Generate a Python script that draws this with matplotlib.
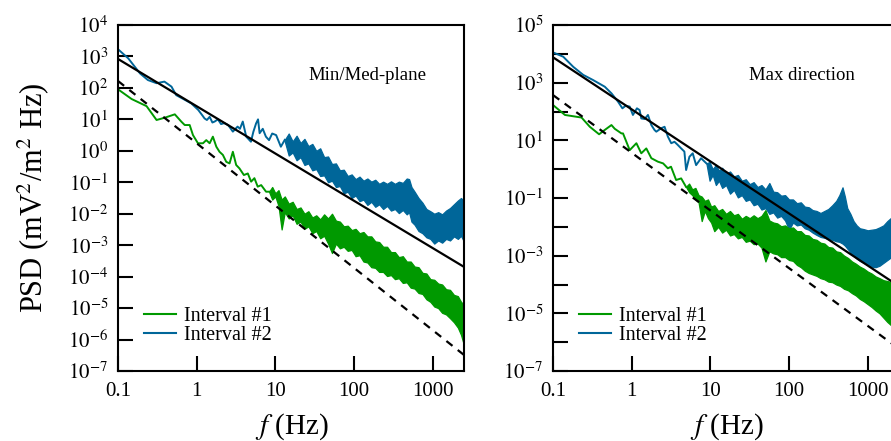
import numpy as np
import matplotlib
matplotlib.use("Agg")
import matplotlib.pyplot as plt
from matplotlib.ticker import FixedLocator, FixedFormatter, NullLocator

plt.rcParams['font.family'] = ['Liberation Serif', 'DejaVu Serif']
plt.rcParams['mathtext.fontset'] = 'stix'

# ---------------- data (log10 frequency [Hz], log10 PSD) ----------------
# Panel 1: Min/Med-plane
mm_i2_line_logf = [-1.0, -0.87, -0.72, -0.62, -0.51, -0.41, -0.32, -0.26, -0.15, -0.07, 0.02, 0.08,
                   0.10, 0.13, 0.165, 0.20, 0.228, 0.27, 0.31, 0.35, 0.40, 0.46, 0.52, 0.55, 0.586,
                   0.63, 0.69, 0.72, 0.755, 0.78, 0.80, 0.84, 0.88, 0.92, 0.96, 1.01, 1.07, 1.12]
mm_i2_line_logp = [3.23, 2.94, 2.46, 2.25, 2.15, 2.20, 2.04, 1.77, 1.62, 1.51, 1.30, 1.10,
                   1.03, 0.98, 1.08, 0.90, 0.93, 1.00, 0.85, 0.88, 0.82, 0.61, 0.77, 0.70, 0.93,
                   0.45, 0.29, 0.60, 0.87, 1.00, 0.56, 0.70, 0.45, 0.34, 0.55, 0.50, 0.13, 0.35]
mm_i2_band_logf = [1.12, 1.17, 1.22, 1.27, 1.32, 1.37, 1.42, 1.47, 1.52, 1.57, 1.62, 1.67, 1.72, 1.77,
                   1.82, 1.87, 1.92, 1.97, 2.02, 2.07, 2.12, 2.17, 2.22, 2.27, 2.32, 2.37, 2.42, 2.47,
                   2.52, 2.57, 2.62, 2.67, 2.70, 2.73, 2.77, 2.82, 2.87, 2.92, 2.97, 3.02, 3.07, 3.12,
                   3.17, 3.22, 3.27, 3.32, 3.36, 3.40]
mm_i2_band_hi = [0.35, 0.55, 0.30, 0.48, 0.25, 0.38, 0.15, 0.22, 0.0, 0.08, -0.20, -0.18, -0.42, -0.40,
                 -0.62, -0.60, -0.80, -0.75, -0.90, -0.82, -0.95, -0.88, -0.98, -0.92, -1.05, -0.98,
                 -1.05, -0.97, -1.05, -0.98, -1.02, -0.88, -0.90, -1.15, -1.30, -1.50, -1.65, -1.85,
                 -1.92, -2.0, -1.95, -2.02, -1.90, -1.82, -1.70, -1.58, -1.50, -1.60]
mm_i2_band_lo = [0.30, -0.15, -0.05, -0.30, -0.20, -0.45, -0.40, -0.62, -0.58, -0.80, -0.78, -1.0,
                 -0.95, -1.15, -1.12, -1.35, -1.30, -1.50, -1.42, -1.60, -1.55, -1.72, -1.62, -1.78,
                 -1.70, -1.85, -1.75, -1.90, -1.85, -1.98, -1.88, -2.02, -1.95, -2.25, -2.35, -2.55,
                 -2.62, -2.75, -2.80, -2.95, -2.85, -2.92, -2.80, -2.85, -2.72, -2.80, -2.70, -2.90]

mm_i1_line_logf = [-1.0, -0.827, -0.637, -0.51, -0.405, -0.278, -0.194, -0.152, -0.089, -0.047, 0.016,
                   0.08, 0.122, 0.165, 0.206, 0.25, 0.29, 0.333, 0.376, 0.418, 0.46, 0.502, 0.544,
                   0.60, 0.65, 0.692, 0.734, 0.776, 0.82, 0.882, 0.92]
mm_i1_line_logp = [1.956, 1.647, 1.42, 0.98, 1.053, 1.16, 0.925, 0.82, 0.82, 0.50, 0.24,
                   0.24, 0.34, 0.24, 0.45, 0.13, -0.03, -0.13, -0.35, -0.40, -0.03, -0.45, -0.56,
                   -0.77, -0.72, -0.98, -0.87, -1.14, -1.09, -1.30, -1.30]
mm_i1_band_logf = [0.92, 0.96, 1.00, 1.04, 1.08, 1.12, 1.17, 1.22, 1.27, 1.32, 1.37, 1.42, 1.47, 1.52,
                   1.57, 1.62, 1.67, 1.72, 1.77, 1.82, 1.87, 1.92, 1.97, 2.02, 2.07, 2.12, 2.17, 2.22,
                   2.27, 2.32, 2.37, 2.42, 2.47, 2.52, 2.57, 2.62, 2.67, 2.72, 2.77, 2.82, 2.87, 2.92,
                   2.97, 3.02, 3.07, 3.12, 3.17, 3.22, 3.27, 3.32, 3.36, 3.40]
mm_i1_band_hi = [-1.30, -1.15, -1.35, -1.25, -1.55, -1.45, -1.68, -1.62, -1.85, -1.80, -2.0, -1.92,
                 -2.12, -2.05, -2.18, -2.02, -2.15, -2.0, -2.22, -2.25, -2.40, -2.38, -2.52, -2.48,
                 -2.62, -2.58, -2.72, -2.72, -2.88, -2.90, -3.05, -3.05, -3.22, -3.22, -3.38, -3.35,
                 -3.52, -3.52, -3.68, -3.70, -3.88, -3.90, -4.08, -4.10, -4.22, -4.25, -4.40, -4.42,
                 -4.58, -4.62, -4.80, -4.90]
mm_i1_band_lo = [-1.30, -1.55, -1.45, -1.75, -2.50, -1.95, -2.15, -2.05, -2.32, -2.25, -2.48, -2.40,
                 -2.62, -2.55, -2.78, -2.70, -2.95, -3.25, -2.95, -3.10, -3.05, -3.18, -3.15, -3.35,
                 -3.32, -3.52, -3.55, -3.70, -3.72, -3.85, -3.85, -3.98, -3.95, -4.08, -4.05, -4.20,
                 -4.18, -4.35, -4.38, -4.52, -4.55, -4.72, -4.80, -4.95, -5.00, -5.15, -5.20, -5.32,
                 -5.45, -5.62, -5.85, -6.20]

mm_fit_solid_f = [0.1, 2500]
mm_fit_solid_p = [10**2.92, 10**-3.69]
mm_fit_dash_f = [0.1, 2500]
mm_fit_dash_p = [10**2.22, 10**-6.49]

# Panel 2: Max direction
mx_i2_line_logf = [-1.0, -0.87, -0.743, -0.616, -0.49, -0.342, -0.257, -0.173, -0.118, -0.076, -0.025,
                   0.016, 0.067, 0.101, 0.122, 0.165, 0.207, 0.25, 0.29, 0.313, 0.376, 0.418, 0.46,
                   0.503, 0.544, 0.586, 0.629, 0.67, 0.692, 0.734, 0.776, 0.819, 0.882, 0.95]
mx_i2_line_logp = [4.05, 3.90, 3.55, 3.27, 3.09, 2.86, 2.63, 2.34, 2.11, 2.20, 2.17,
                   1.88, 2.11, 2.05, 1.76, 1.74, 1.88, 1.53, 1.36, 1.30, 1.42, 1.47, 1.13,
                   0.90, 0.95, 0.84, 0.72, 0.61, -0.03, 0.43, 0.55, 0.14, 0.38, 0.20]
mx_i2_band_logf = [0.95, 0.99, 1.03, 1.07, 1.11, 1.15, 1.20, 1.25, 1.30, 1.35, 1.40, 1.45, 1.50, 1.55,
                   1.60, 1.65, 1.70, 1.75, 1.80, 1.85, 1.90, 1.95, 2.00, 2.05, 2.10, 2.15, 2.20, 2.25,
                   2.30, 2.35, 2.40, 2.45, 2.50, 2.55, 2.60, 2.64, 2.68, 2.71, 2.74, 2.78, 2.82, 2.86,
                   2.90, 2.95, 3.00, 3.05, 3.10, 3.15, 3.20, 3.25, 3.30, 3.35, 3.40]
mx_i2_band_hi = [0.20, 0.25, 0.0, 0.15, -0.05, 0.05, -0.15, -0.08, -0.25, -0.20, -0.40, -0.35, -0.52,
                 -0.45, -0.62, -0.55, -0.70, -0.48, -0.78, -0.80, -0.92, -0.90, -1.05, -1.05, -1.18,
                 -1.15, -1.30, -1.32, -1.42, -1.45, -1.52, -1.45, -1.38, -1.25, -1.10, -0.90, -0.63,
                 -0.95, -1.35, -1.55, -1.80, -1.95, -2.05, -2.08, -2.12, -2.10, -2.08, -2.02, -1.95,
                 -1.80, -1.68, -1.60, -1.50]
mx_i2_band_lo = [0.20, -0.40, -0.20, -0.55, -0.40, -0.65, -0.55, -0.85, -0.72, -0.98, -0.90, -1.10,
                 -1.05, -1.25, -1.20, -1.40, -1.35, -1.55, -1.50, -1.68, -1.62, -1.78, -2.10, -1.85,
                 -1.95, -1.92, -2.05, -2.10, -2.20, -2.28, -2.35, -2.38, -2.42, -2.45, -2.50, -2.52,
                 -2.58, -2.65, -2.75, -2.88, -3.00, -3.10, -3.18, -3.25, -3.32, -3.38, -3.40, -3.35,
                 -3.25, -3.15, -3.05, -2.98, -2.90]

mx_i1_line_logf = [-1.0, -0.848, -0.637, -0.532, -0.414, -0.342, -0.257, -0.215, -0.13, -0.11, -0.025,
                   0.06, 0.122, 0.186, 0.25, 0.333, 0.40, 0.46, 0.50, 0.565, 0.629, 0.69]
mx_i1_line_logp = [2.225, 1.88, 1.79, 1.47, 1.21, 1.36, 1.53, 1.40, 1.24, 1.24, 0.66,
                   0.90, 0.55, 0.72, 0.38, 0.26, 0.20, 0.03, 0.085, -0.376, -0.32, -0.61]
mx_i1_band_logf = [0.69, 0.73, 0.77, 0.81, 0.85, 0.89, 0.93, 0.97, 1.01, 1.05, 1.10, 1.15, 1.20, 1.25,
                   1.30, 1.35, 1.40, 1.45, 1.50, 1.55, 1.60, 1.65, 1.70, 1.75, 1.80, 1.85, 1.90, 1.95,
                   2.00, 2.05, 2.10, 2.15, 2.20, 2.25, 2.30, 2.35, 2.40, 2.45, 2.50, 2.55, 2.60, 2.65,
                   2.70, 2.75, 2.80, 2.85, 2.90, 2.95, 3.00, 3.05, 3.10, 3.15, 3.20, 3.25, 3.30, 3.35,
                   3.40]
mx_i1_band_hi = [-0.61, -0.50, -0.70, -0.65, -0.90, -0.95, -1.10, -1.05, -1.30, -1.25, -1.45, -1.38,
                 -1.55, -1.45, -1.60, -1.55, -1.72, -1.62, -1.70, -1.60, -1.70, -1.62, -1.42, -1.78,
                 -1.85, -1.88, -1.98, -1.95, -2.05, -2.02, -2.15, -2.15, -2.28, -2.30, -2.42, -2.45,
                 -2.55, -2.58, -2.70, -2.72, -2.85, -2.88, -3.00, -3.08, -3.20, -3.28, -3.38, -3.45,
                 -3.55, -3.62, -3.72, -3.78, -3.85, -3.88, -3.92, -3.95, -4.00]
mx_i1_band_lo = [-0.61, -0.80, -0.90, -1.05, -1.15, -1.80, -1.45, -1.70, -1.85, -2.15, -2.00, -2.20,
                 -2.10, -2.30, -2.25, -2.40, -2.35, -2.52, -2.48, -2.60, -2.58, -2.72, -3.20, -2.85,
                 -2.92, -2.95, -3.05, -3.05, -3.15, -3.18, -3.32, -3.40, -3.52, -3.60, -3.65, -3.70,
                 -3.78, -3.82, -3.90, -3.92, -4.00, -4.05, -4.15, -4.20, -4.30, -4.38, -4.50, -4.58,
                 -4.68, -4.78, -4.90, -5.00, -5.15, -5.30, -5.42, -5.52, -5.60]

mx_fit_solid_f = [0.1, 2500]
mx_fit_solid_p = [10**3.88, 10**-4.06]
mx_fit_dash_f = [0.1, 2500]
mx_fit_dash_p = [10**2.57, 10**-6.23]

x_ticks = [0.1, 1, 10, 100, 1000]
x_tick_labels = ["0.1", "1", "10", "100", "1000"]
legend_labels = ["Interval #1", "Interval #2"]
panel_titles = ["Min/Med-plane", "Max direction"]

GREEN = "#009900"
BLUE = "#006699"

W, H = 891, 441
fig = plt.figure(figsize=(W / 100, H / 100), dpi=100)

ax1 = fig.add_axes([118 / W, 70 / H, 346 / W, 346 / H])
ax2 = fig.add_axes([553 / W, 70 / H, 346 / W, 346 / H])


def p10(a):
    return 10 ** np.asarray(a, dtype=float)


def draw_panel(ax, i1, i2, fs, fd, ylim, yexps, ylabels_on, title):
    (l1f, l1p, b1f, b1lo, b1hi) = i1
    (l2f, l2p, b2f, b2lo, b2hi) = i2
    ax.set_xscale('log')
    ax.set_yscale('log')
    # interval 2 (blue)
    ax.plot(p10(l2f), p10(l2p), color=BLUE, lw=1.4, zorder=2)
    ax.fill_between(p10(b2f), p10(b2lo), p10(b2hi), facecolor=BLUE, edgecolor=BLUE,
                    lw=0.9, zorder=2)
    # interval 1 (green)
    ax.plot(p10(l1f), p10(l1p), color=GREEN, lw=1.4, zorder=2)
    ax.fill_between(p10(b1f), p10(b1lo), p10(b1hi), facecolor=GREEN, edgecolor=GREEN,
                    lw=0.9, zorder=2)
    # fits
    ax.plot(fs[0], fs[1], color='black', lw=1.6, zorder=3)
    ax.plot(fd[0], fd[1], color='black', lw=1.6, ls=(0, (3.5, 3.0)), zorder=3)

    ax.set_xlim(0.1, 2500)
    ax.set_ylim(*ylim)
    ax.xaxis.set_major_locator(FixedLocator(x_ticks))
    ax.xaxis.set_major_formatter(FixedFormatter(x_tick_labels))
    ax.xaxis.set_minor_locator(NullLocator())
    ax.yaxis.set_major_locator(FixedLocator([10.0 ** e for e in yexps]))
    ax.yaxis.set_major_formatter(FixedFormatter(
        [(r'$10^{%d}$' % e) if ylabels_on(e) else '' for e in yexps]))
    ax.yaxis.set_minor_locator(NullLocator())
    ax.tick_params(direction='in', length=11, width=1.5, top=False, right=False)
    ax.tick_params(axis='x', labelsize=15, pad=8)
    ax.tick_params(axis='y', labelsize=15, pad=7)
    for s in ax.spines.values():
        s.set_linewidth(1.5)
    ax.text(0.72, 0.853, title, transform=ax.transAxes, ha='center', va='center', fontsize=13.5)

    h1, = ax.plot([], [], color=GREEN, lw=1.5)
    h2, = ax.plot([], [], color=BLUE, lw=1.5)
    ax.legend([h1, h2], legend_labels, loc='lower left', bbox_to_anchor=(0.075, 0.075),
              frameon=False, fontsize=14.5, handlelength=1.6, handletextpad=0.4,
              labelspacing=0.0, borderpad=0.0, borderaxespad=0.0)


draw_panel(ax1,
           (mm_i1_line_logf, mm_i1_line_logp, mm_i1_band_logf, mm_i1_band_lo, mm_i1_band_hi),
           (mm_i2_line_logf, mm_i2_line_logp, mm_i2_band_logf, mm_i2_band_lo, mm_i2_band_hi),
           (mm_fit_solid_f, mm_fit_solid_p), (mm_fit_dash_f, mm_fit_dash_p),
           (1e-7, 1e4), list(range(4, -8, -1)), lambda e: True, panel_titles[0])
draw_panel(ax2,
           (mx_i1_line_logf, mx_i1_line_logp, mx_i1_band_logf, mx_i1_band_lo, mx_i1_band_hi),
           (mx_i2_line_logf, mx_i2_line_logp, mx_i2_band_logf, mx_i2_band_lo, mx_i2_band_hi),
           (mx_fit_solid_f, mx_fit_solid_p), (mx_fit_dash_f, mx_fit_dash_p),
           (1e-7, 1e5), list(range(5, -8, -1)), lambda e: e % 2 != 0, panel_titles[1])

fig.text(33 / W, 1 - 198 / H, r'PSD (mV$^2$/m$^2$ Hz)', rotation=90, ha='center', va='center',
         fontsize=22)
fig.text(292 / W, 1 - 427 / H, r'$f$ (Hz)', ha='center', va='center', fontsize=21)
fig.text(727 / W, 1 - 427 / H, r'$f$ (Hz)', ha='center', va='center', fontsize=21)

fig.savefig('out.png', dpi=100)
